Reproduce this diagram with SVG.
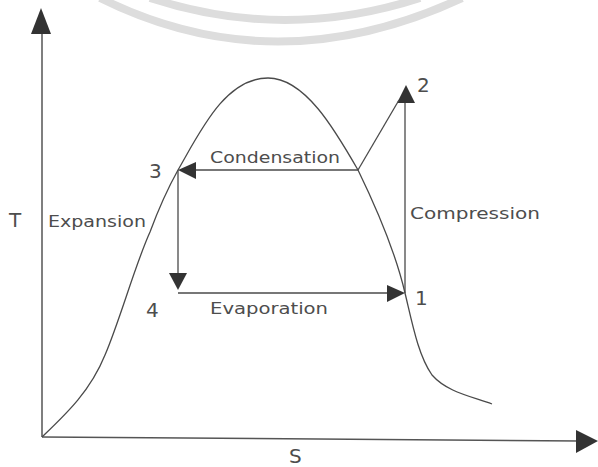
<svg xmlns="http://www.w3.org/2000/svg" width="598" height="467" viewBox="0 0 598 467">
<style>
.wm{fill:none;stroke:#dddddd;stroke-width:8}
.ln{fill:none;stroke:#4a4a4a;stroke-width:1.3}
.ax{fill:none;stroke:#555;stroke-width:1.5}
.ah{fill:#333}
.t{font-family:"DejaVu Sans","Liberation Sans",sans-serif;font-size:16px;fill:#4d4d4d}
.big{font-size:20px}
</style>
<rect width="598" height="467" fill="#fff"/>
<g id="watermark">
<path class="wm" d="M100,-2 Q275,85 462,-2"/>
<path class="wm" d="M150,-2 Q285,42 420,-2"/>
</g>
<g id="axes">
<path class="ax" d="M42,437 L42,30"/>
<polygon class="ah" points="41,8 31,34 51,34"/>
<path class="ax" d="M42,437 L580,441"/>
<polygon class="ah" points="598,441 576,430 576,453"/>
<text class="t big" x="9" y="227">T</text>
<text class="t big" x="289" y="463">S</text>
</g>
<g id="dome">
<path class="ln" d="M42,437 C65,415 90,392 105,355 C120,320 135,265 150,232 C160,205 168,188 178,170 C200,132 225,78 268,78 C305,78 335,130 358,170 C375,205 395,250 405,293 C412,322 418,355 432,375 C447,392 470,396 492,404"/>
</g>
<g id="connectors">
<path class="ln" d="M358,170 L192,170"/>
<polygon class="ah" points="178,170 196,162 196,179"/>
<path class="ln" d="M178,170 L178,275"/>
<polygon class="ah" points="178,290 169,273 187,273"/>
<path class="ln" d="M178,293 L390,293"/>
<polygon class="ah" points="405,293 387,285 387,302"/>
<path class="ln" d="M405,293 L405,100"/>
<polygon class="ah" points="406,85 397,103 415,103"/>
<path class="ln" d="M358,170 L399,100"/>
</g>
<g id="n1"><text class="t big" x="415" y="305">1</text></g>
<g id="n2"><text class="t big" x="417" y="92">2</text></g>
<g id="n3"><text class="t big" x="149" y="178">3</text></g>
<g id="n4"><text class="t big" x="146" y="317">4</text></g>
<g id="labels">
<text class="t" x="48" y="227" textLength="98" lengthAdjust="spacingAndGlyphs">Expansion</text>
<text class="t" x="210" y="163" textLength="130" lengthAdjust="spacingAndGlyphs">Condensation</text>
<text class="t" x="410" y="219" textLength="130" lengthAdjust="spacingAndGlyphs">Compression</text>
<text class="t" x="210" y="314" textLength="118" lengthAdjust="spacingAndGlyphs">Evaporation</text>
</g>
</svg>
